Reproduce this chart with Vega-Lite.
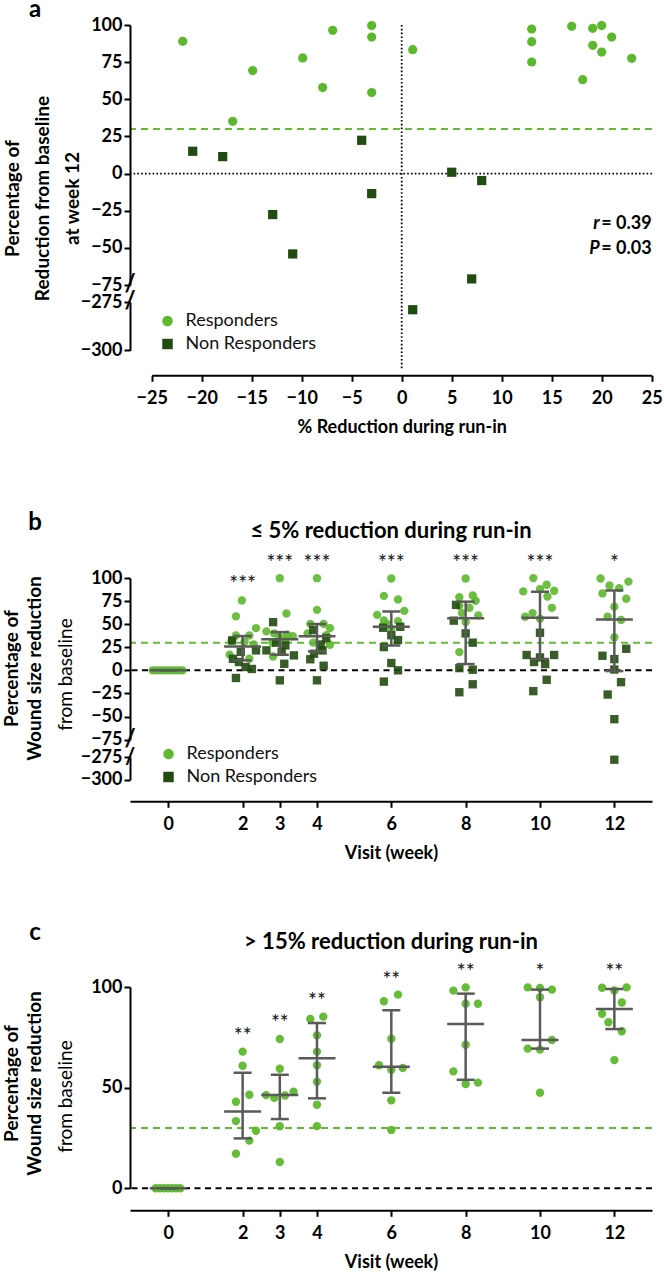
{
  "$schema": "https://vega.github.io/schema/vega-lite/v6.json",
  "autosize": {"type": "none"},
  "padding": {"left": 130, "top": 25, "right": 534, "bottom": 1255},
  "datasets": {
    "a": [
      {"x": -21.9, "y": 89.0, "g": "Responders"},
      {"x": -14.9, "y": 69.3, "g": "Responders"},
      {"x": -16.9, "y": 35.2, "g": "Responders"},
      {"x": -9.9, "y": 77.8, "g": "Responders"},
      {"x": -7.9, "y": 57.9, "g": "Responders"},
      {"x": -6.9, "y": 96.4, "g": "Responders"},
      {"x": -3.0, "y": 99.6, "g": "Responders"},
      {"x": -3.0, "y": 91.9, "g": "Responders"},
      {"x": -3.0, "y": 54.5, "g": "Responders"},
      {"x": 1.1, "y": 83.4, "g": "Responders"},
      {"x": 13.0, "y": 97.3, "g": "Responders"},
      {"x": 13.0, "y": 88.8, "g": "Responders"},
      {"x": 13.0, "y": 75.1, "g": "Responders"},
      {"x": 17.0, "y": 99.1, "g": "Responders"},
      {"x": 18.1, "y": 63.2, "g": "Responders"},
      {"x": 19.1, "y": 97.8, "g": "Responders"},
      {"x": 19.1, "y": 86.3, "g": "Responders"},
      {"x": 20.0, "y": 99.6, "g": "Responders"},
      {"x": 20.0, "y": 81.8, "g": "Responders"},
      {"x": 21.0, "y": 91.9, "g": "Responders"},
      {"x": 23.0, "y": 77.6, "g": "Responders"},
      {"x": -20.9, "y": 15.0, "g": "Non Responders"},
      {"x": -17.9, "y": 11.4, "g": "Non Responders"},
      {"x": -12.9, "y": -27.6, "g": "Non Responders"},
      {"x": -10.9, "y": -54.1, "g": "Non Responders"},
      {"x": -4.0, "y": 22.4, "g": "Non Responders"},
      {"x": -3.0, "y": -13.5, "g": "Non Responders"},
      {"x": 5.0, "y": 0.9, "g": "Non Responders"},
      {"x": 8.0, "y": -4.7, "g": "Non Responders"},
      {"x": 7.0, "y": -70.9, "g": "Non Responders"},
      {"x": 1.1, "y": -279, "g": "Non Responders"}
    ],
    "b": [
      {"x": -0.42, "y": 0, "g": "Responders"}, {"x": -0.33, "y": 0, "g": "Responders"}, {"x": -0.24, "y": 0, "g": "Responders"}, {"x": -0.15, "y": 0, "g": "Responders"}, {"x": -0.06, "y": 0, "g": "Responders"},
      {"x": 0.03, "y": 0, "g": "Responders"}, {"x": 0.12, "y": 0, "g": "Responders"}, {"x": 0.21, "y": 0, "g": "Responders"}, {"x": 0.3, "y": 0, "g": "Responders"}, {"x": 0.38, "y": 0, "g": "Responders"},
      {"x": 1.98, "y": 75.7, "g": "Responders"}, {"x": 1.82, "y": 58.5, "g": "Responders"}, {"x": 2.36, "y": 45.7, "g": "Responders"}, {"x": 1.82, "y": 37.8, "g": "Responders"}, {"x": 2.18, "y": 37.8, "g": "Responders"},
      {"x": 2.05, "y": 31, "g": "Responders"}, {"x": 1.7, "y": 32, "g": "Responders"}, {"x": 1.65, "y": 17, "g": "Responders"}, {"x": 2.18, "y": 12.5, "g": "Responders"}, {"x": 2.3, "y": 28, "g": "Responders"},
      {"x": 3.0, "y": 99.8, "g": "Responders"}, {"x": 3.18, "y": 61.5, "g": "Responders"}, {"x": 2.64, "y": 42.2, "g": "Responders"}, {"x": 2.85, "y": 40, "g": "Responders"}, {"x": 3.2, "y": 38.6, "g": "Responders"},
      {"x": 3.35, "y": 37, "g": "Responders"}, {"x": 3.0, "y": 36, "g": "Responders"}, {"x": 2.8, "y": 30, "g": "Responders"}, {"x": 3.15, "y": 33, "g": "Responders"}, {"x": 2.82, "y": 15, "g": "Responders"},
      {"x": 4.0, "y": 99.8, "g": "Responders"}, {"x": 4.0, "y": 65.5, "g": "Responders"}, {"x": 3.82, "y": 50.3, "g": "Responders"}, {"x": 4.18, "y": 50.3, "g": "Responders"}, {"x": 4.35, "y": 45.7, "g": "Responders"},
      {"x": 3.75, "y": 40, "g": "Responders"}, {"x": 4.25, "y": 38, "g": "Responders"}, {"x": 3.9, "y": 30, "g": "Responders"}, {"x": 4.35, "y": 27.7, "g": "Responders"}, {"x": 4.1, "y": 22, "g": "Responders"},
      {"x": 6.0, "y": 99.5, "g": "Responders"}, {"x": 5.8, "y": 80.6, "g": "Responders"}, {"x": 6.18, "y": 76.8, "g": "Responders"}, {"x": 6.35, "y": 64.4, "g": "Responders"}, {"x": 5.62, "y": 60.1, "g": "Responders"},
      {"x": 5.8, "y": 54.0, "g": "Responders"}, {"x": 6.18, "y": 53.3, "g": "Responders"}, {"x": 5.77, "y": 47.9, "g": "Responders"}, {"x": 6.0, "y": 45.0, "g": "Responders"}, {"x": 5.9, "y": 50, "g": "Responders"},
      {"x": 8.0, "y": 99.5, "g": "Responders"}, {"x": 8.19, "y": 81.0, "g": "Responders"}, {"x": 7.83, "y": 79.2, "g": "Responders"}, {"x": 8.27, "y": 75.3, "g": "Responders"}, {"x": 8.1, "y": 67.8, "g": "Responders"},
      {"x": 7.83, "y": 70, "g": "Responders"}, {"x": 8.34, "y": 59.5, "g": "Responders"}, {"x": 8.0, "y": 52.3, "g": "Responders"}, {"x": 7.9, "y": 62, "g": "Responders"}, {"x": 7.83, "y": 19.8, "g": "Responders"},
      {"x": 9.82, "y": 99.9, "g": "Responders"}, {"x": 10.18, "y": 92.7, "g": "Responders"}, {"x": 9.55, "y": 85.5, "g": "Responders"}, {"x": 10.38, "y": 86.2, "g": "Responders"}, {"x": 10.0, "y": 88, "g": "Responders"},
      {"x": 10.32, "y": 67.7, "g": "Responders"}, {"x": 9.6, "y": 58.0, "g": "Responders"}, {"x": 10.0, "y": 55.8, "g": "Responders"}, {"x": 10.2, "y": 80, "g": "Responders"}, {"x": 9.8, "y": 62, "g": "Responders"},
      {"x": 11.63, "y": 99.5, "g": "Responders"}, {"x": 11.87, "y": 91.9, "g": "Responders"}, {"x": 12.13, "y": 89.0, "g": "Responders"}, {"x": 12.38, "y": 96.1, "g": "Responders"}, {"x": 11.68, "y": 83.3, "g": "Responders"},
      {"x": 12.32, "y": 77.6, "g": "Responders"}, {"x": 12.0, "y": 69.0, "g": "Responders"}, {"x": 11.82, "y": 58.2, "g": "Responders"}, {"x": 12.18, "y": 54.6, "g": "Responders"}, {"x": 12.0, "y": 35.9, "g": "Responders"},
      {"x": 1.72, "y": 32.4, "g": "Non Responders"}, {"x": 2.36, "y": 21.6, "g": "Non Responders"}, {"x": 1.74, "y": 12.5, "g": "Non Responders"}, {"x": 1.9, "y": 9, "g": "Non Responders"},
      {"x": 2.08, "y": 3.6, "g": "Non Responders"}, {"x": 2.25, "y": 1.5, "g": "Non Responders"}, {"x": 1.82, "y": -8.3, "g": "Non Responders"}, {"x": 1.95, "y": 20, "g": "Non Responders"},
      {"x": 2.82, "y": 52.2, "g": "Non Responders"}, {"x": 3.15, "y": 27, "g": "Non Responders"}, {"x": 2.64, "y": 21.6, "g": "Non Responders"}, {"x": 3.38, "y": 16.2, "g": "Non Responders"},
      {"x": 3.12, "y": 7.1, "g": "Non Responders"}, {"x": 3.0, "y": -10.8, "g": "Non Responders"}, {"x": 2.9, "y": 30, "g": "Non Responders"}, {"x": 3.05, "y": 20, "g": "Non Responders"},
      {"x": 3.9, "y": 43.6, "g": "Non Responders"}, {"x": 3.82, "y": 12, "g": "Non Responders"}, {"x": 4.18, "y": 5, "g": "Non Responders"}, {"x": 4.0, "y": -10.8, "g": "Non Responders"},
      {"x": 4.15, "y": 21.6, "g": "Non Responders"}, {"x": 3.92, "y": 18, "g": "Non Responders"}, {"x": 4.1, "y": 28, "g": "Non Responders"}, {"x": 4.25, "y": 35, "g": "Non Responders"},
      {"x": 5.78, "y": 46.1, "g": "Non Responders"}, {"x": 6.24, "y": 47.2, "g": "Non Responders"}, {"x": 6.18, "y": 32.8, "g": "Non Responders"}, {"x": 5.8, "y": 25.2, "g": "Non Responders"},
      {"x": 6.0, "y": 7.9, "g": "Non Responders"}, {"x": 6.18, "y": 0, "g": "Non Responders"}, {"x": 5.8, "y": -12.2, "g": "Non Responders"}, {"x": 6.0, "y": 38, "g": "Non Responders"},
      {"x": 7.74, "y": 70.9, "g": "Non Responders"}, {"x": 7.68, "y": 53.8, "g": "Non Responders"}, {"x": 8.19, "y": 30.0, "g": "Non Responders"}, {"x": 7.83, "y": 2.4, "g": "Non Responders"},
      {"x": 8.19, "y": 0.7, "g": "Non Responders"}, {"x": 8.19, "y": -15.1, "g": "Non Responders"}, {"x": 7.83, "y": -23.7, "g": "Non Responders"}, {"x": 8.0, "y": 40, "g": "Non Responders"},
      {"x": 10.0, "y": 40.7, "g": "Non Responders"}, {"x": 9.64, "y": 16.6, "g": "Non Responders"}, {"x": 10.38, "y": 16.6, "g": "Non Responders"}, {"x": 9.84, "y": 9.0, "g": "Non Responders"},
      {"x": 10.14, "y": 6.8, "g": "Non Responders"}, {"x": 10.18, "y": -10.2, "g": "Non Responders"}, {"x": 9.82, "y": -22.5, "g": "Non Responders"}, {"x": 10.0, "y": 14, "g": "Non Responders"},
      {"x": 12.32, "y": 23.4, "g": "Non Responders"}, {"x": 11.68, "y": 15.8, "g": "Non Responders"}, {"x": 12.0, "y": 12.2, "g": "Non Responders"}, {"x": 12.18, "y": -12.8, "g": "Non Responders"},
      {"x": 11.82, "y": -26.2, "g": "Non Responders"}, {"x": 12.0, "y": -52.9, "g": "Non Responders"}, {"x": 12.0, "y": -278, "g": "Non Responders"}, {"x": 12.0, "y": 0.9, "g": "Non Responders"}
    ],
    "bs": [
      {"x": 0, "mid": 0, "lo": 0, "hi": 0},
      {"x": 2, "mid": 25.9, "lo": 10.8, "hi": 37.1},
      {"x": 3, "mid": 33.8, "lo": 16.9, "hi": 41.4},
      {"x": 4, "mid": 36.8, "lo": 20.5, "hi": 50.1},
      {"x": 6, "mid": 47.2, "lo": 27.0, "hi": 63.8},
      {"x": 8, "mid": 56.5, "lo": 6.8, "hi": 74.4},
      {"x": 10, "mid": 57.0, "lo": 12.3, "hi": 85.1},
      {"x": 12, "mid": 55.1, "lo": -0.8, "hi": 86.5}
    ],
    "bt": [
      {"x": 2, "y": 91.9, "t": "***"},
      {"x": 3, "y": 115.2, "t": "***"},
      {"x": 4, "y": 115.2, "t": "***"},
      {"x": 6, "y": 115.2, "t": "***"},
      {"x": 8, "y": 115.2, "t": "***"},
      {"x": 10, "y": 115.2, "t": "***"},
      {"x": 12, "y": 115.2, "t": "*"}
    ],
    "c": [
      {"x": -0.34, "y": 0}, {"x": -0.23, "y": 0}, {"x": -0.12, "y": 0}, {"x": -0.01, "y": 0}, {"x": 0.1, "y": 0}, {"x": 0.21, "y": 0}, {"x": 0.32, "y": 0},
      {"x": 2.0, "y": 67.9}, {"x": 2.0, "y": 60.9}, {"x": 2.18, "y": 46.5}, {"x": 1.82, "y": 43.0}, {"x": 1.82, "y": 33.4}, {"x": 2.36, "y": 28.6}, {"x": 2.18, "y": 23.7}, {"x": 1.82, "y": 17.2},
      {"x": 3.0, "y": 74.2}, {"x": 3.0, "y": 59.4}, {"x": 3.37, "y": 48.0}, {"x": 2.63, "y": 46.3}, {"x": 2.85, "y": 44.9}, {"x": 3.14, "y": 46.1}, {"x": 3.0, "y": 30.8}, {"x": 3.0, "y": 13.1},
      {"x": 3.82, "y": 84.1}, {"x": 4.17, "y": 85.3}, {"x": 4.0, "y": 76.0}, {"x": 4.0, "y": 67.9}, {"x": 4.0, "y": 61.1}, {"x": 4.0, "y": 53.0}, {"x": 4.0, "y": 41.5}, {"x": 4.0, "y": 30.9},
      {"x": 6.18, "y": 96.2}, {"x": 5.8, "y": 92.9}, {"x": 6.0, "y": 74.3}, {"x": 5.67, "y": 61.1}, {"x": 6.0, "y": 58.9}, {"x": 6.31, "y": 59.8}, {"x": 6.0, "y": 43.7}, {"x": 6.0, "y": 29.0},
      {"x": 8.0, "y": 99.8}, {"x": 7.67, "y": 98.2}, {"x": 8.0, "y": 91.7}, {"x": 8.33, "y": 91.7}, {"x": 8.0, "y": 71.3}, {"x": 7.67, "y": 58.1}, {"x": 8.0, "y": 51.8}, {"x": 8.33, "y": 52.5},
      {"x": 9.67, "y": 99.8}, {"x": 10.32, "y": 98.7}, {"x": 10.0, "y": 94.9}, {"x": 10.32, "y": 73.7}, {"x": 9.67, "y": 69.4}, {"x": 10.0, "y": 68.9}, {"x": 10.0, "y": 47.5}, {"x": 10.0, "y": 99.5},
      {"x": 11.67, "y": 99.6}, {"x": 12.33, "y": 99.8}, {"x": 12.0, "y": 98.3}, {"x": 12.2, "y": 92.3}, {"x": 11.67, "y": 86.7}, {"x": 11.84, "y": 82.5}, {"x": 12.2, "y": 78.0}, {"x": 12.0, "y": 63.7}
    ],
    "cs": [
      {"x": 0, "mid": 0, "lo": 0, "hi": 0},
      {"x": 2, "mid": 38.1, "lo": 24.8, "hi": 57.4},
      {"x": 3, "mid": 46.3, "lo": 34.4, "hi": 56.4},
      {"x": 4, "mid": 64.6, "lo": 44.7, "hi": 82.1},
      {"x": 6, "mid": 60.4, "lo": 47.5, "hi": 88.4},
      {"x": 8, "mid": 81.6, "lo": 53.9, "hi": 96.7},
      {"x": 10, "mid": 73.7, "lo": 69.4, "hi": 98.7},
      {"x": 12, "mid": 89.1, "lo": 79.1, "hi": 99.0}
    ],
    "ct": [
      {"x": 2, "y": 75.2, "t": "**"},
      {"x": 3, "y": 81.8, "t": "**"},
      {"x": 4, "y": 92.5, "t": "**"},
      {"x": 6, "y": 102.8, "t": "**"},
      {"x": 8, "y": 107, "t": "**"},
      {"x": 10, "y": 107, "t": "*"},
      {"x": 12, "y": 107, "t": "**"}
    ]
  },
  "bounds": "flush",
  "spacing": 0,
  "resolve": {"scale": {"x": "independent", "y": "independent"}, "legend": {"color": "independent", "shape": "independent"}},
  "vconcat": [
    {
      "width": 522,
      "height": 260,
      "layer": [
        {"data": {"values": [{}]}, "mark": {"type": "rule", "color": "#62bb32", "strokeDash": [7, 5], "strokeWidth": 2}, "encoding": {"y": {"datum": 30, "type": "quantitative", "scale": {"domain": [-75, 100], "nice": false, "zero": false}}}},
        {"data": {"values": [{}]}, "mark": {"type": "rule", "color": "#000", "strokeDash": [1.6, 2.2], "strokeWidth": 1.8}, "encoding": {"y": {"datum": 0, "type": "quantitative", "scale": {"domain": [-75, 100], "nice": false, "zero": false}}}},
        {"data": {"values": [{}]}, "mark": {"type": "rule", "color": "#000", "strokeDash": [1.6, 2.2], "strokeWidth": 1.8}, "encoding": {"x": {"datum": 0, "type": "quantitative", "scale": {"domain": [-25, 25], "range": [21.7, 521.7], "nice": false, "zero": false}, "axis": null}, "y": {"datum": 100, "type": "quantitative", "scale": {"domain": [-75, 100], "nice": false, "zero": false}}, "y2": {"datum": -86.5}}},
        {
          "data": {"name": "a"},
          "transform": [{"filter": "datum.y > -100"}],
          "mark": {"type": "point", "filled": true, "opacity": 1, "size": 85},
          "encoding": {
            "x": {"field": "x", "type": "quantitative", "scale": {"domain": [-25, 25], "range": [21.7, 521.7], "nice": false, "zero": false}, "axis": null},
            "y": {"field": "y", "type": "quantitative", "scale": {"domain": [-75, 100], "nice": false, "zero": false}, "axis": {"orient": "left", "values": [-75, -50, -25, 0, 25, 50, 75, 100], "tickCount": 20, "format": "d", "domain": true, "ticks": true, "domainColor": "#000", "domainWidth": 2, "tickColor": "#000", "tickWidth": 2, "tickSize": 6, "labelOverlap": false, "zindex": 2, "title": ["Percentage of", "Reduction from baseline", "at week 12"], "titleFontSize": 19, "titleLineHeight": 30, "titleBaseline": "middle", "titleAlign": "center", "titleAngle": -90, "titleX": -117.5, "titleY": 173}},
            "color": {"field": "g", "type": "nominal", "scale": {"domain": ["Responders", "Non Responders"], "range": ["#5cb82c", "#224b11"]}, "legend": null},
            "shape": {"field": "g", "type": "nominal", "scale": {"domain": ["Responders", "Non Responders"], "range": ["circle", "square"]}, "legend": null}
          }
        },
        {
          "data": {"values": [{"x": 25, "y": -34.1, "t": "= 0.39"}, {"x": 25, "y": -50.5, "t": "= 0.03"}]},
          "mark": {"type": "text", "align": "right", "baseline": "middle", "font": "Lato", "fontWeight": "bold", "fontSize": 18, "color": "#000"},
          "encoding": {"x": {"field": "x", "type": "quantitative", "scale": {"domain": [-25, 25], "range": [21.7, 521.7], "nice": false, "zero": false}, "axis": null}, "y": {"field": "y", "type": "quantitative", "scale": {"domain": [-75, 100], "nice": false, "zero": false}}, "text": {"field": "t"}}
        },
        {
          "data": {"values": [{"x": 19.8, "y": -34.1, "t": "r"}, {"x": 19.8, "y": -50.5, "t": "P"}]},
          "mark": {"type": "text", "align": "right", "baseline": "middle", "font": "Lato", "fontWeight": "bold", "fontStyle": "italic", "fontSize": 18, "color": "#000"},
          "encoding": {"x": {"field": "x", "type": "quantitative", "scale": {"domain": [-25, 25], "range": [21.7, 521.7], "nice": false, "zero": false}, "axis": null}, "y": {"field": "y", "type": "quantitative", "scale": {"domain": [-75, 100], "nice": false, "zero": false}}, "text": {"field": "t"}}
        },
        {
          "data": {"values": [{"x": -36.67, "y": 109.8, "t": "a"}, {"x": -27.17, "y": -75, "t": "/"}]},
          "mark": {"type": "text", "align": "center", "baseline": "middle", "font": "Lato", "fontWeight": "bold", "fontSize": 24, "color": "#000"},
          "encoding": {"x": {"field": "x", "type": "quantitative", "scale": {"domain": [-25, 25], "range": [21.7, 521.7], "nice": false, "zero": false}, "axis": null}, "y": {"field": "y", "type": "quantitative", "scale": {"domain": [-75, 100], "nice": false, "zero": false}}, "text": {"field": "t"}}
        }
      ]
    },
    {"width": 522, "height": 17, "data": {"values": []}, "mark": "point"},
    {
      "width": 522,
      "height": 48.3,
      "layer": [
        {"data": {"values": [{}]}, "mark": {"type": "rule", "color": "#000", "strokeDash": [1.6, 2.2], "strokeWidth": 1.8}, "encoding": {"x": {"datum": 0, "type": "quantitative", "scale": {"domain": [-25, 25], "range": [21.7, 521.7], "nice": false, "zero": false}}, "y": {"datum": -275, "type": "quantitative", "scale": {"domain": [-300, -275], "nice": false, "zero": false}}, "y2": {"datum": -310.2}}},
        {
          "data": {"values": [{"x": -27.17, "y": -275, "t": "/"}]},
          "mark": {"type": "text", "align": "center", "baseline": "middle", "font": "Lato", "fontWeight": "bold", "fontSize": 24, "color": "#000"},
          "encoding": {"x": {"field": "x", "type": "quantitative", "scale": {"domain": [-25, 25], "range": [21.7, 521.7], "nice": false, "zero": false}}, "y": {"field": "y", "type": "quantitative", "scale": {"domain": [-300, -275], "nice": false, "zero": false}}, "text": {"field": "t"}}
        },
        {
          "data": {"name": "a"},
          "transform": [{"filter": "datum.y < -100"}],
          "mark": {"type": "point", "filled": true, "opacity": 1, "size": 85},
          "encoding": {
            "x": {"field": "x", "type": "quantitative", "scale": {"domain": [-25, 25], "range": [21.7, 521.7], "nice": false, "zero": false}, "axis": {"values": [-25, -20, -15, -10, -5, 0, 5, 10, 15, 20, 25], "tickCount": 30, "format": "d", "offset": 25, "title": "% Reduction during run-in"}},
            "y": {"field": "y", "type": "quantitative", "scale": {"domain": [-300, -275], "nice": false, "zero": false}, "axis": {"orient": "left", "values": [-300, -275], "tickCount": 10, "format": "d", "domain": true, "ticks": true, "domainColor": "#000", "domainWidth": 2, "tickColor": "#000", "tickWidth": 2, "tickSize": 6, "labelOverlap": false, "zindex": 2, "title": null}},
            "color": {"field": "g", "type": "nominal", "scale": {"domain": ["Responders", "Non Responders"], "range": ["#5cb82c", "#224b11"]}, "legend": {"orient": "none", "legendX": 28.5, "legendY": 10, "title": null}},
            "shape": {"field": "g", "type": "nominal", "scale": {"domain": ["Responders", "Non Responders"], "range": ["circle", "square"]}, "legend": {"orient": "none", "legendX": 28.5, "legendY": 10, "title": null}}
          }
        }
      ]
    },
    {"width": 522, "height": 226.7, "data": {"values": []}, "mark": "point"},
    {
      "width": 522,
      "height": 161.6,
      "title": {"text": "≤ 5% reduction during run-in", "offset": 28, "baseline": "alphabetic", "dy": 76.7},
      "layer": [
        {"data": {"values": [{}]}, "mark": {"type": "rule", "color": "#62bb32", "strokeDash": [7, 5], "strokeWidth": 2}, "encoding": {"y": {"datum": 30, "type": "quantitative", "scale": {"domain": [-75, 100], "nice": false, "zero": false}}}},
        {"data": {"values": [{}]}, "mark": {"type": "rule", "color": "#000", "strokeDash": [6, 4.5], "strokeWidth": 2}, "encoding": {"y": {"datum": 0, "type": "quantitative", "scale": {"domain": [-75, 100], "nice": false, "zero": false}}}},
        {
          "data": {"name": "b"},
          "transform": [{"filter": "datum.y > -100"}],
          "mark": {"type": "point", "filled": true, "opacity": 0.9, "size": 70},
          "encoding": {
            "x": {"field": "x", "type": "quantitative", "scale": {"domain": [-1.03, 13.013], "nice": false, "zero": false}, "axis": null},
            "y": {"field": "y", "type": "quantitative", "scale": {"domain": [-75, 100], "nice": false, "zero": false}, "axis": {"orient": "left", "values": [-75, -50, -25, 0, 25, 50, 75, 100], "tickCount": 20, "format": "d", "domain": true, "ticks": true, "domainColor": "#000", "domainWidth": 2, "tickColor": "#000", "tickWidth": 2, "tickSize": 6, "labelOverlap": false, "zindex": 2, "title": ["Percentage of", "Wound size reduction"], "titleFontSize": 19, "titleLineHeight": 23, "titleBaseline": "middle", "titleAlign": "center", "titleAngle": -90, "titleX": -119, "titleY": 90}},
            "color": {"field": "g", "type": "nominal", "scale": {"domain": ["Responders", "Non Responders"], "range": ["#5cb82c", "#224b11"]}, "legend": null},
            "shape": {"field": "g", "type": "nominal", "scale": {"domain": ["Responders", "Non Responders"], "range": ["circle", "square"]}, "legend": null}
          }
        },
        {"data": {"name": "bs"}, "mark": {"type": "rule", "color": "#5a5a5a", "strokeWidth": 2.5}, "encoding": {"x": {"field": "x", "type": "quantitative", "scale": {"domain": [-1.03, 13.013], "nice": false, "zero": false}, "axis": null}, "y": {"field": "lo", "type": "quantitative", "scale": {"domain": [-75, 100], "nice": false, "zero": false}}, "y2": {"field": "hi"}}},
        {"data": {"name": "bs"}, "mark": {"type": "tick", "orient": "horizontal", "size": 37, "thickness": 2.5, "color": "#5a5a5a", "opacity": 1}, "encoding": {"x": {"field": "x", "type": "quantitative", "scale": {"domain": [-1.03, 13.013], "nice": false, "zero": false}, "axis": null}, "y": {"field": "mid", "type": "quantitative", "scale": {"domain": [-75, 100], "nice": false, "zero": false}}}},
        {"data": {"name": "bs"}, "mark": {"type": "tick", "orient": "horizontal", "size": 18, "thickness": 2.5, "color": "#5a5a5a", "opacity": 1}, "encoding": {"x": {"field": "x", "type": "quantitative", "scale": {"domain": [-1.03, 13.013], "nice": false, "zero": false}, "axis": null}, "y": {"field": "lo", "type": "quantitative", "scale": {"domain": [-75, 100], "nice": false, "zero": false}}}},
        {"data": {"name": "bs"}, "mark": {"type": "tick", "orient": "horizontal", "size": 18, "thickness": 2.5, "color": "#5a5a5a", "opacity": 1}, "encoding": {"x": {"field": "x", "type": "quantitative", "scale": {"domain": [-1.03, 13.013], "nice": false, "zero": false}, "axis": null}, "y": {"field": "hi", "type": "quantitative", "scale": {"domain": [-75, 100], "nice": false, "zero": false}}}},
        {"data": {"name": "bt"}, "mark": {"type": "text", "font": "Lato", "fontSize": 21, "baseline": "middle", "color": "#111"}, "encoding": {"x": {"field": "x", "type": "quantitative", "scale": {"domain": [-1.03, 13.013], "nice": false, "zero": false}, "axis": null}, "y": {"field": "y", "type": "quantitative", "scale": {"domain": [-75, 100], "nice": false, "zero": false}}, "text": {"field": "t"}}},
        {
          "data": {"values": [{"x": -3.586, "y": 159.3, "t": "b"}, {"x": -1.03, "y": -75, "t": "/"}]},
          "mark": {"type": "text", "align": "center", "baseline": "middle", "font": "Lato", "fontWeight": "bold", "fontSize": 24, "color": "#000"},
          "encoding": {"x": {"field": "x", "type": "quantitative", "scale": {"domain": [-1.03, 13.013], "nice": false, "zero": false}, "axis": null}, "y": {"field": "y", "type": "quantitative", "scale": {"domain": [-75, 100], "nice": false, "zero": false}}, "text": {"field": "t"}}
        }
      ]
    },
    {"width": 522, "height": 16.7, "data": {"values": []}, "mark": "point"},
    {
      "width": 522,
      "height": 22.7,
      "layer": [
        {
          "data": {"values": [{"x": -1.03, "y": -275, "t": "/"}]},
          "mark": {"type": "text", "align": "center", "baseline": "middle", "font": "Lato", "fontWeight": "bold", "fontSize": 22, "color": "#000"},
          "encoding": {"x": {"field": "x", "type": "quantitative", "scale": {"domain": [-1.03, 13.013], "nice": false, "zero": false}}, "y": {"field": "y", "type": "quantitative", "scale": {"domain": [-300, -275], "nice": false, "zero": false}}, "text": {"field": "t"}}
        },
        {
          "data": {"name": "b"},
          "transform": [{"filter": "datum.y < -100"}],
          "mark": {"type": "point", "filled": true, "opacity": 0.9, "size": 70},
          "encoding": {
            "x": {"field": "x", "type": "quantitative", "scale": {"domain": [-1.03, 13.013], "nice": false, "zero": false}, "axis": {"values": [0, 2, 3, 4, 6, 8, 10, 12], "tickCount": 30, "format": "d", "offset": 21.6, "title": "Visit (week)"}},
            "y": {"field": "y", "type": "quantitative", "scale": {"domain": [-300, -275], "nice": false, "zero": false}, "axis": {"orient": "left", "values": [-300, -275], "tickCount": 10, "format": "d", "domain": true, "ticks": true, "domainColor": "#000", "domainWidth": 2, "tickColor": "#000", "tickWidth": 2, "tickSize": 6, "labelOverlap": false, "zindex": 2, "title": "from baseline", "titleFontWeight": "normal", "titleFontSize": 19, "titleBaseline": "middle", "titleAlign": "center", "titleAngle": -90, "titleX": -65, "titleY": -83}},
            "color": {"field": "g", "type": "nominal", "scale": {"domain": ["Responders", "Non Responders"], "range": ["#5cb82c", "#224b11"]}, "legend": {"orient": "none", "legendX": 29.5, "legendY": -12, "title": null}},
            "shape": {"field": "g", "type": "nominal", "scale": {"domain": ["Responders", "Non Responders"], "range": ["circle", "square"]}, "legend": {"orient": "none", "legendX": 29.5, "legendY": -12, "title": null}}
          }
        }
      ]
    },
    {"width": 522, "height": 206.3, "data": {"values": []}, "mark": "point"},
    {
      "width": 522,
      "height": 201.3,
      "title": {"text": "> 15% reduction during run-in", "offset": 27, "baseline": "alphabetic", "dy": 77},
      "resolve": {"axis": {"y": "independent"}},
      "layer": [
        {"data": {"values": [{}]}, "mark": {"type": "rule", "color": "#62bb32", "strokeDash": [7, 5], "strokeWidth": 2}, "encoding": {"y": {"datum": 30, "type": "quantitative", "scale": {"domain": [0, 100], "nice": false, "zero": false}, "axis": null}}},
        {"data": {"values": [{}]}, "mark": {"type": "rule", "color": "#000", "strokeDash": [6, 4.5], "strokeWidth": 2}, "encoding": {"y": {"datum": 0, "type": "quantitative", "scale": {"domain": [0, 100], "nice": false, "zero": false}, "axis": null}}},
        {
          "data": {"name": "c"},
          "mark": {"type": "point", "filled": true, "opacity": 0.95, "size": 70, "shape": "circle", "color": "#5cb82c"},
          "encoding": {
            "x": {"field": "x", "type": "quantitative", "scale": {"domain": [-1.03, 13.013], "nice": false, "zero": false}, "axis": {"values": [0, 2, 3, 4, 6, 8, 10, 12], "tickCount": 30, "format": "d", "offset": 22, "title": "Visit (week)"}},
            "y": {"field": "y", "type": "quantitative", "scale": {"domain": [0, 100], "nice": false, "zero": false}, "axis": {"orient": "left", "values": [0, 50, 100], "tickCount": 10, "format": "d", "domain": true, "ticks": true, "domainColor": "#000", "domainWidth": 2, "tickColor": "#000", "tickWidth": 2, "tickSize": 6, "labelOverlap": false, "zindex": 2, "title": ["Percentage of", "Wound size reduction"], "titleFontSize": 19, "titleLineHeight": 23, "titleBaseline": "middle", "titleAlign": "center", "titleAngle": -90, "titleX": -119, "titleY": 96}}
          }
        },
        {"data": {"name": "cs"}, "mark": {"type": "rule", "color": "#5a5a5a", "strokeWidth": 2.5}, "encoding": {"x": {"field": "x", "type": "quantitative", "scale": {"domain": [-1.03, 13.013], "nice": false, "zero": false}}, "y": {"field": "lo", "type": "quantitative", "scale": {"domain": [0, 100], "nice": false, "zero": false}, "axis": {"orient": "left", "labels": false, "ticks": false, "domain": false, "title": "from baseline", "titleFontWeight": "normal", "titleFontSize": 19, "titleBaseline": "middle", "titleAlign": "center", "titleAngle": -90, "titleX": -65, "titleY": 109}}, "y2": {"field": "hi"}}},
        {"data": {"name": "cs"}, "mark": {"type": "tick", "orient": "horizontal", "size": 37, "thickness": 2.5, "color": "#5a5a5a", "opacity": 1}, "encoding": {"x": {"field": "x", "type": "quantitative", "scale": {"domain": [-1.03, 13.013], "nice": false, "zero": false}}, "y": {"field": "mid", "type": "quantitative", "scale": {"domain": [0, 100], "nice": false, "zero": false}, "axis": null}}},
        {"data": {"name": "cs"}, "mark": {"type": "tick", "orient": "horizontal", "size": 18, "thickness": 2.5, "color": "#5a5a5a", "opacity": 1}, "encoding": {"x": {"field": "x", "type": "quantitative", "scale": {"domain": [-1.03, 13.013], "nice": false, "zero": false}}, "y": {"field": "lo", "type": "quantitative", "scale": {"domain": [0, 100], "nice": false, "zero": false}, "axis": null}}},
        {"data": {"name": "cs"}, "mark": {"type": "tick", "orient": "horizontal", "size": 18, "thickness": 2.5, "color": "#5a5a5a", "opacity": 1}, "encoding": {"x": {"field": "x", "type": "quantitative", "scale": {"domain": [-1.03, 13.013], "nice": false, "zero": false}}, "y": {"field": "hi", "type": "quantitative", "scale": {"domain": [0, 100], "nice": false, "zero": false}, "axis": null}}},
        {"data": {"name": "ct"}, "mark": {"type": "text", "font": "Lato", "fontSize": 21, "baseline": "middle", "color": "#111"}, "encoding": {"x": {"field": "x", "type": "quantitative", "scale": {"domain": [-1.03, 13.013], "nice": false, "zero": false}}, "y": {"field": "y", "type": "quantitative", "scale": {"domain": [0, 100], "nice": false, "zero": false}, "axis": null}, "text": {"field": "t"}}},
        {
          "data": {"values": [{"x": -3.586, "y": 126.6, "t": "c"}]},
          "mark": {"type": "text", "align": "center", "baseline": "middle", "font": "Lato", "fontWeight": "bold", "fontSize": 24, "color": "#000"},
          "encoding": {"x": {"field": "x", "type": "quantitative", "scale": {"domain": [-1.03, 13.013], "nice": false, "zero": false}}, "y": {"field": "y", "type": "quantitative", "scale": {"domain": [0, 100], "nice": false, "zero": false}, "axis": null}, "text": {"field": "t"}}
        }
      ]
    }
  ],
  "config": {
    "font": "Lato",
    "view": {"stroke": null},
    "axis": {"domainColor": "#000", "domainWidth": 2, "tickColor": "#000", "tickWidth": 2, "tickSize": 6, "labelFont": "Lato", "labelFontWeight": "bold", "labelFontSize": 18, "labelColor": "#000", "labelFlush": false, "labelOverlap": false, "grid": false, "titleFont": "Lato", "titleFontWeight": "bold", "titleFontSize": 18, "titleColor": "#000"},
    "axisX": {"labelPadding": 8, "titlePadding": 11},
    "axisY": {"labelPadding": 2},
    "legend": {"labelFont": "Lato", "labelFontSize": 18, "labelColor": "#111", "symbolSize": 110, "rowPadding": 5, "labelOffset": 9, "padding": 0, "symbolStrokeWidth": 0, "symbolOpacity": 1},
    "title": {"font": "Lato", "fontSize": 22, "fontWeight": "bold", "color": "#000", "anchor": "middle", "frame": "group"}
  }
}
